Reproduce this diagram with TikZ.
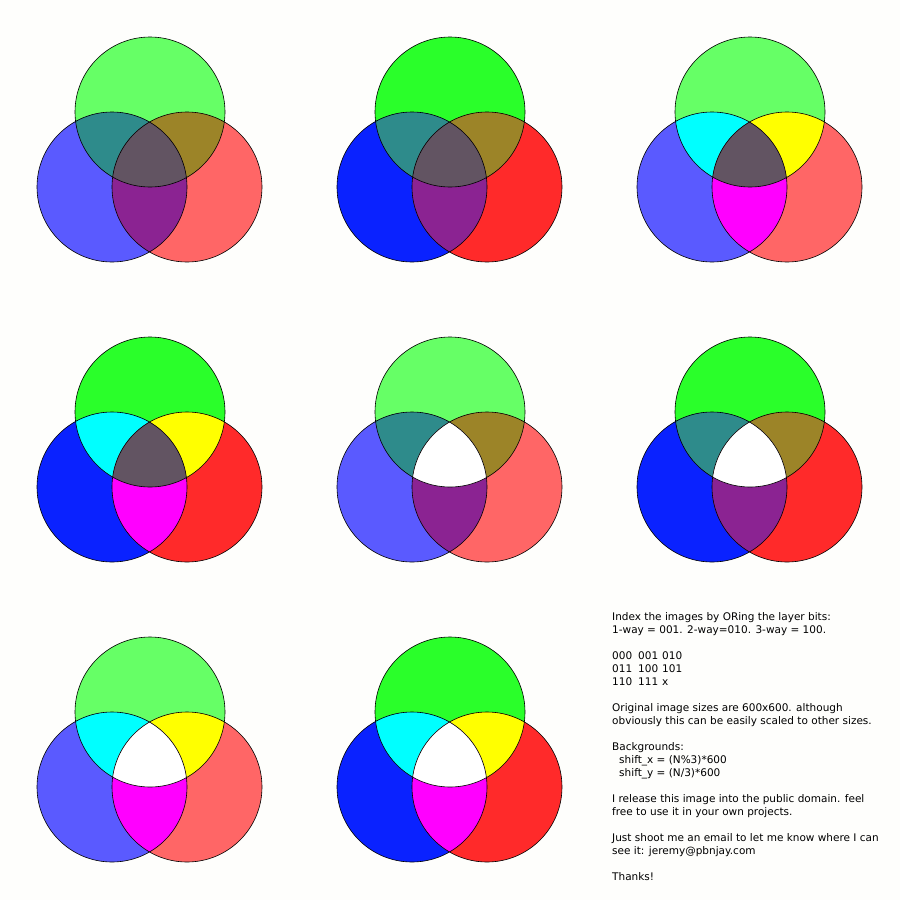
\documentclass[tikz,border=0pt]{standalone}
\usepackage{fontspec}
\setmainfont{DejaVu Sans}
\usetikzlibrary{positioning}
\definecolor{Paper}{HTML}{FEFEFC}
\definecolor{GreenLt}{HTML}{66FF66}
\definecolor{GreenSat}{HTML}{2AFF2A}
\definecolor{BlueLt}{HTML}{5A5AFF}
\definecolor{BlueSat}{HTML}{0A22FF}
\definecolor{RedLt}{HTML}{FF6666}
\definecolor{RedSat}{HTML}{FF2A2A}
\definecolor{Teal}{HTML}{2E8B8B}
\definecolor{Olive}{HTML}{9C8428}
\definecolor{Plum}{HTML}{8B2392}
\definecolor{Mauve}{HTML}{625462}
\definecolor{PureCyan}{HTML}{00FFFF}
\definecolor{PureYellow}{HTML}{FFFF00}
\definecolor{PureMagenta}{HTML}{FF00FF}
\tikzset{ring/.style={draw=black,line width=0.6pt},
  notes/.style={anchor=north west,align=left,inner sep=0pt,font=\fontsize{10.5}{13}\selectfont}}

\begin{document}
\begin{tikzpicture}[x=1pt,y=-1pt]
\fill[Paper] (0,0) rectangle (900,900);
% one cell per layer index: 1-way, 2-way, 3-way colours
\foreach \cx/\cy/\g/\b/\r/\gb/\gr/\br/\c in {
  0/0/GreenLt/BlueLt/RedLt/Teal/Olive/Plum/Mauve,
  300/0/GreenSat/BlueSat/RedSat/Teal/Olive/Plum/Mauve,
  600/0/GreenLt/BlueLt/RedLt/PureCyan/PureYellow/PureMagenta/Mauve,
  0/300/GreenSat/BlueSat/RedSat/PureCyan/PureYellow/PureMagenta/Mauve,
  300/300/GreenLt/BlueLt/RedLt/Teal/Olive/Plum/white,
  600/300/GreenSat/BlueSat/RedSat/Teal/Olive/Plum/white,
  0/600/GreenLt/BlueLt/RedLt/PureCyan/PureYellow/PureMagenta/white,
  300/600/GreenSat/BlueSat/RedSat/PureCyan/PureYellow/PureMagenta/white} {
  \begin{scope}[shift={(\cx,\cy)}]
    \fill[\g] (150,112) circle (75);
    \fill[\b] (112,187) circle (75);
    \fill[\r] (187,187) circle (75);
    \begin{scope}
      \clip (150,112) circle (75);
      \fill[\gb] (112,187) circle (75);
      \fill[\gr] (187,187) circle (75);
    \end{scope}
    \begin{scope}
      \clip (112,187) circle (75);
      \fill[\br] (187,187) circle (75);
      \clip (187,187) circle (75);
      \fill[\c] (150,112) circle (75);
    \end{scope}
    \draw[ring] (150,112) circle (75);
    \draw[ring] (112,187) circle (75);
    \draw[ring] (187,187) circle (75);
  \end{scope}
}
\node[notes] (readme) at (612,612.5) {Index the images by ORing the layer bits:\\
1-way = 001. 2-way=010. 3-way = 100.\\ ~\\
\makebox[26pt][l]{000}\makebox[24pt][l]{001}010\\
\makebox[26pt][l]{011}\makebox[24pt][l]{100}101\\
\makebox[26pt][l]{110}\makebox[24pt][l]{111}x\\ ~\\
Original image sizes are 600x600. although\\
obviously this can be easily scaled to other sizes.\\ ~\\
Backgrounds:\\
\hspace*{7pt}shift\_x = (N\%3)*600\\
\hspace*{7pt}shift\_y = (N/3)*600\\ ~\\
I release this image into the public domain. feel\\
free to use it in your own projects.\\ ~\\
Just shoot me an email to let me know where I can\\
see it: jeremy@pbnjay.com\\ ~\\
Thanks!};
\end{tikzpicture}
\end{document}
